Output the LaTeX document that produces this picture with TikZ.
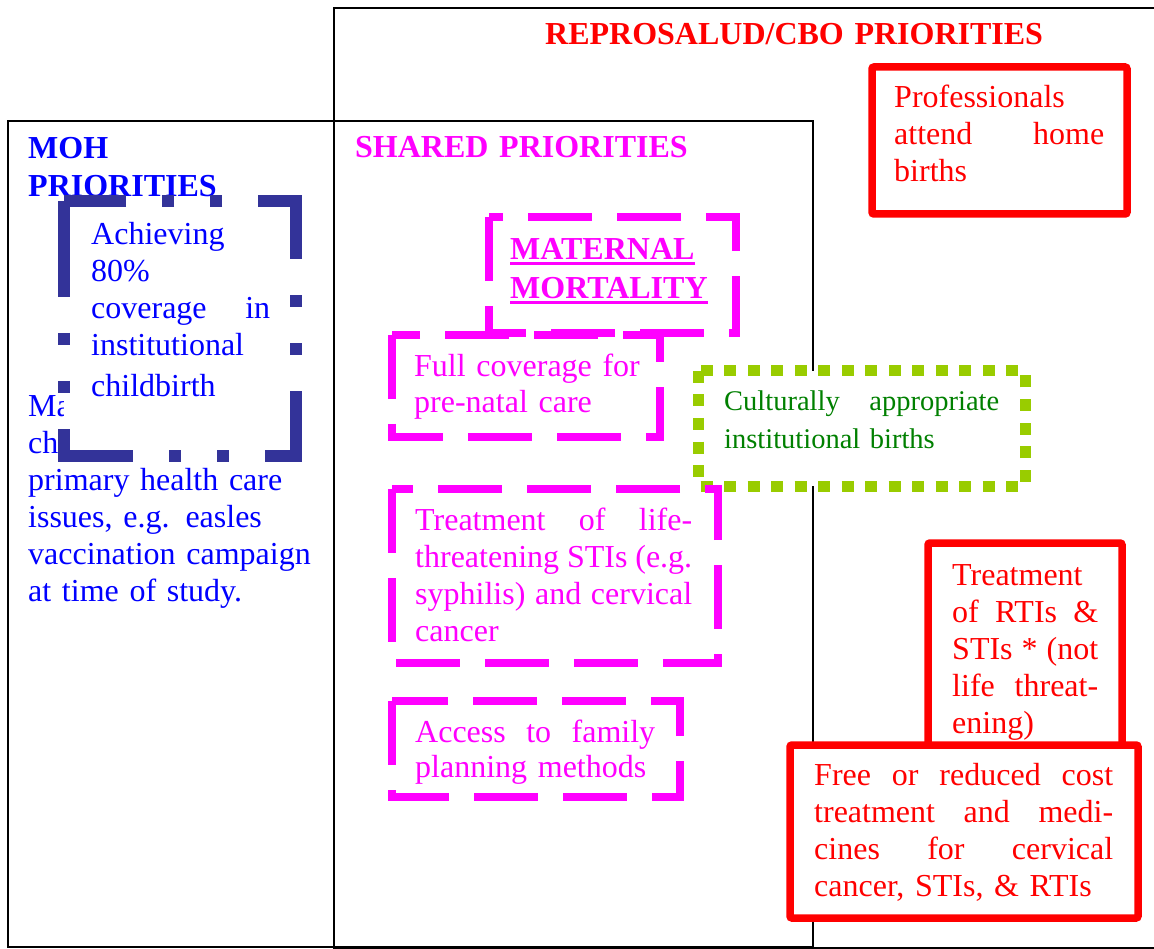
\documentclass[tikz,border=0pt]{standalone}
\usepackage{fontspec}
\setmainfont{Liberation Serif}
\definecolor{mohblue}{RGB}{0,0,255}
\definecolor{mohframe}{RGB}{51,51,153}
\definecolor{sharedpink}{RGB}{255,0,255}
\definecolor{cbored}{RGB}{255,0,0}
\definecolor{limegreen}{RGB}{153,204,0}
\definecolor{textgreen}{RGB}{0,128,0}
\newcommand{\ulbar}[1]{\leavevmode\setbox0\hbox{#1}\rlap{\rule[-5.5pt]{\wd0}{3pt}}\box0}
\begin{document}
\begin{tikzpicture}[x=1pt,y=-1pt,
    frame/.style={draw=black,line width=2pt},
    txt/.style={inner sep=0pt,anchor=base west,align=left,font=\fontsize{32}{37}\selectfont},
    redbox/.style={draw=cbored,line width=7.5pt,rounded corners=2pt},
    pinkbox/.style={draw=sharedpink,line width=7.5pt,dash pattern=on 64pt off 25pt},
    bluebox/.style={draw=mohframe,fill=white,line width=12pt,
        dash pattern=on 96pt off 36pt on 12pt off 36pt on 12pt off 36pt},
    greenbox/.style={draw=limegreen,fill=white,line width=11pt,dash pattern=on 12pt off 11.5pt}]
    \useasboundingbox (0,0) rectangle (1154,949);
    \clip (0,0) rectangle (1154,949);
    % frames
    \draw[frame] (334,8) rectangle (1170,948);
    \draw[frame] (8,121) rectangle (334,947);
    \draw[frame] (334,121) rectangle (813,947);
    % MOH
    \node[txt,text width=285pt,mohblue] (mohtext) at (28,417)
        {Ma\\ch\\primary health care\\issues, e.g. easles\\vaccination campaign\\at time of study.};
    \node[txt,text width=250pt,mohblue,font=\fontsize{32}{38}\selectfont\bfseries] (mohtitle) at (28,159) {MOH\\PRIORITIES};
    \draw[bluebox] (64,201) rectangle (296,456);
    \node[txt,text width=179pt,mohblue] (achieve) at (91,245)
        {Achieving\\80\%\\coverage\hfill in\\institutional\\[4pt]childbirth};
    % titles
    \node[txt,text width=500pt,sharedpink,font=\fontsize{32}{37}\selectfont\bfseries] (sharedtitle) at (355,158) {SHARED PRIORITIES};
    \node[txt,text width=520pt,cbored,font=\fontsize{32}{37}\selectfont\bfseries] (cbotitle) at (545,45) {REPROSALUD/CBO PRIORITIES};
    % shared
    \draw[greenbox] (698,371) rectangle (1025,486);
    \node[txt,text width=275pt,textgreen,font=\fontsize{28.5}{38}\selectfont] (cultural) at (724,410)
        {Culturally\hfill appropriate\\institutional births};
    \draw[pinkbox] (489,217) rectangle (736,333);
    \node[txt,text width=215pt,sharedpink,font=\fontsize{32}{39}\selectfont\bfseries] (maternal) at (510,260)
        {\ulbar{MATERNAL}\\\ulbar{MORTALITY}};
    \draw[pinkbox] (392,335) rectangle (660,437);
    \node[txt,text width=230pt,sharedpink,font=\fontsize{32}{36}\selectfont] (prenatal) at (414,377)
        {Full coverage for\\pre-natal care};
    \draw[pinkbox] (392,489) rectangle (718,663);
    \node[txt,text width=277pt,sharedpink] (lifesti) at (415,530)
        {Treatment\hfill of\hfill life-\\threatening\hfill STIs\hfill (e.g.\\syphilis)\hfill and\hfill cervical\\cancer};
    \draw[pinkbox] (392,701) rectangle (680,797);
    \node[txt,text width=240pt,sharedpink,font=\fontsize{32}{35}\selectfont] (family) at (415,742)
        {Access\hfill to\hfill family\\planning methods};
    % reprosalud
    \draw[redbox] (872,67) rectangle (1127,214);
    \node[txt,text width=210pt,cbored] (homebirth) at (894,108)
        {Professionals\\attend\hfill home\\births};
    \draw[redbox,fill=white] (928,543) rectangle (1122,760);
    \node[txt,text width=146pt,cbored] (rtis) at (952,585)
        {Treatment\\of\hfill RTIs\hfill \&\\STIs\hfill *\hfill (not\\life\hfill threat-\\ening)};
    \draw[redbox,fill=white] (790,745) rectangle (1138,918);
    \node[txt,text width=299pt,cbored] (freecost) at (814,785)
        {Free\hfill or\hfill reduced\hfill cost\\treatment\hfill and\hfill medi-\\cines\hfill for\hfill cervical\\cancer, STIs, \& RTIs};
\end{tikzpicture}
\end{document}
